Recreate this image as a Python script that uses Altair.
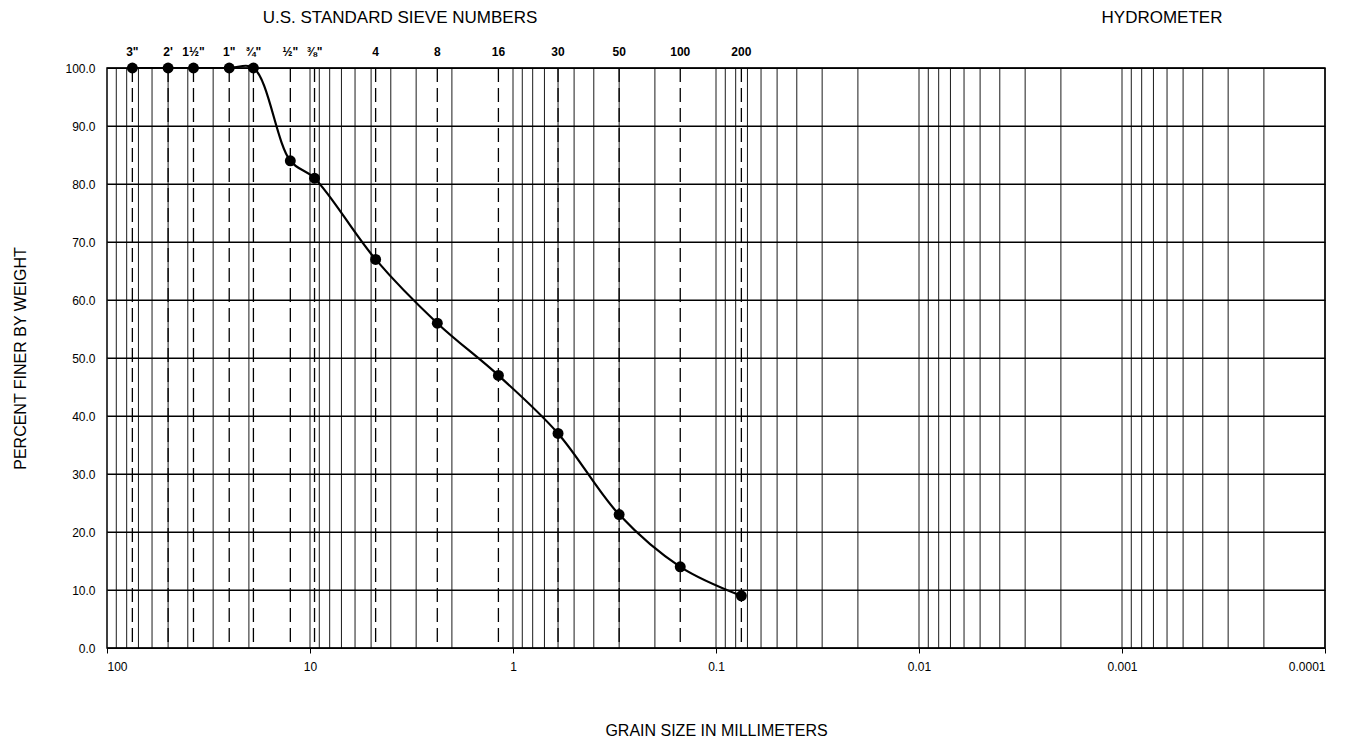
import altair as alt
import pandas as pd

# ---- data ----
sieve_labels = ['3"', "2'", '1½"', '1"', '¾"', '½"', '⅜"', '4', '8', '16', '30', '50', '100', '200']
sieve_mm = [75, 50, 37.5, 25, 19, 12.5, 9.5, 4.75, 2.36, 1.18, 0.6, 0.3, 0.15, 0.075]
percent_finer = [100, 100, 100, 100, 100, 84, 81, 67, 56, 47, 37, 23, 14, 9]
decade_ticks = [100, 10, 1, 0.1, 0.01, 0.001, 0.0001]
y_ticks = [0, 10, 20, 30, 40, 50, 60, 70, 80, 90, 100]
grid_multipliers = [1, 2, 3, 4, 5, 6, 7, 8, 9]
header_left = ["U.S. STANDARD SIEVE NUMBERS"]
header_right = ["HYDROMETER"]

FONT = "Liberation Sans"

# minor log grid lines (1..9 x each decade)
grid_vals = [m * d for d in [0.0001, 0.001, 0.01, 0.1, 1, 10] for m in grid_multipliers]
grid_df = pd.DataFrame({"size": grid_vals})
sieve_df = pd.DataFrame({"size": sieve_mm, "label": sieve_labels, "pct": percent_finer})

xscale = alt.Scale(type="log", domain=[100, 0.0001], nice=False)
yscale = alt.Scale(domain=[0, 100], nice=False)

x_axis = alt.Axis(
    values=decade_ticks,
    labelExpr="datum.value >= 1 ? format(datum.value, 'd') : format(datum.value, '~g')",
    title="GRAIN SIZE IN MILLIMETERS",
    titleFont=FONT, titleFontSize=16, titleFontWeight="normal", titlePadding=50, titleColor="black",
    labelFont=FONT, labelFontSize=12, labelPadding=8, labelColor="black",
    tickSize=5, tickColor="black", domain=False, grid=False,
)
y_axis = alt.Axis(
    values=y_ticks, format=".1f",
    title="PERCENT FINER BY WEIGHT",
    titleFont=FONT, titleFontSize=16, titleFontWeight="normal", titlePadding=36, titleColor="black",
    labelFont=FONT, labelFontSize=12, labelPadding=12, labelColor="black",
    tickSize=0, domain=False, grid=True, gridColor="black", gridWidth=1, gridOpacity=1,
)

grid = alt.Chart(grid_df).mark_rule(color="black", strokeWidth=0.9).encode(
    x=alt.X("size:Q", scale=xscale, axis=x_axis)
)

sieve_rules = alt.Chart(sieve_df).mark_rule(color="black", strokeWidth=1.3, strokeDash=[14, 6]).encode(
    x=alt.X("size:Q", scale=xscale)
)

hgrid = alt.Chart(pd.DataFrame({"pct": y_ticks})).mark_rule(color="black", strokeWidth=1).encode(
    y=alt.Y("pct:Q", scale=yscale, axis=y_axis)
)

line = alt.Chart(sieve_df).mark_line(color="black", strokeWidth=2.2, interpolate="catmull-rom").encode(
    x=alt.X("size:Q", scale=xscale),
    y=alt.Y("pct:Q", scale=yscale),
    order=alt.Order("size:Q", sort="descending"),
)

points = alt.Chart(sieve_df).mark_circle(color="black", size=120, opacity=1).encode(
    x=alt.X("size:Q", scale=xscale),
    y=alt.Y("pct:Q", scale=yscale),
)

sieve_text = alt.Chart(sieve_df).mark_text(
    font=FONT, fontSize=12, fontWeight="bold", baseline="middle", align="center", color="black"
).encode(
    x=alt.X("size:Q", scale=xscale),
    y=alt.value(-16),
    text="label:N",
)

header_l = alt.Chart(pd.DataFrame({"text": header_left})).mark_text(
    font=FONT, fontSize=17, baseline="middle", align="center", color="black"
).encode(x=alt.value(293), y=alt.value(-50), text="text:N")

header_r = alt.Chart(pd.DataFrame({"text": header_right})).mark_text(
    font=FONT, fontSize=17, baseline="middle", align="center", color="black"
).encode(x=alt.value(1055), y=alt.value(-50), text="text:N")

chart = alt.layer(hgrid, grid, sieve_rules, line, points, sieve_text, header_l, header_r).properties(
    width=1218, height=580,
    autosize=alt.AutoSizeParams(type="none"),
    padding={"left": 99, "top": 60, "right": 30, "bottom": 92},
    background="white",
).configure_view(stroke="black", strokeWidth=1.5)

chart.save("out.html", embed_options={"renderer": "svg", "actions": False})
